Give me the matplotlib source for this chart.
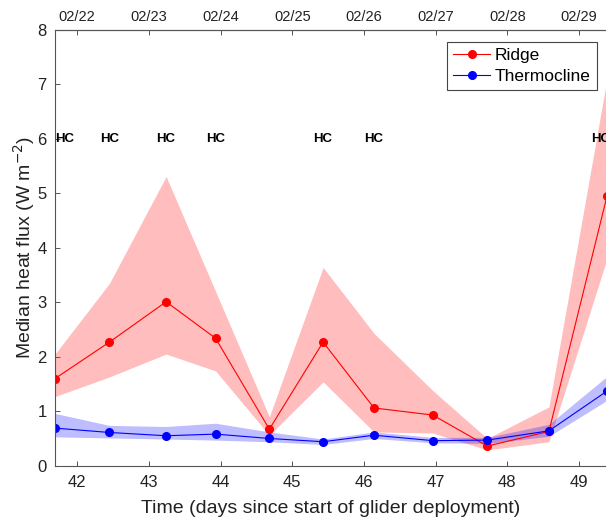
"""
Median heat flux at the ridge and in the thermocline during the glider deployment
"""

import matplotlib
matplotlib.use('Agg')
import matplotlib.pyplot as plt

# Time of each profile group (days since start of glider deployment)
days = [41.69, 42.45, 43.24, 43.93, 44.68, 45.43, 46.14, 46.96, 47.72, 48.58, 49.39]

# Ridge: median heat flux and the spread around it (W m-2)
ridge = [1.60, 2.27, 3.01, 2.34, 0.67, 2.27, 1.06, 0.93, 0.36, 0.63, 4.95]
ridge_lo = [1.27, 1.63, 2.05, 1.74, 0.56, 1.54, 0.62, 0.60, 0.29, 0.44, 3.80]
ridge_hi = [2.05, 3.35, 5.31, 3.20, 0.90, 3.64, 2.43, 1.38, 0.50, 1.08, 7.10]

# Thermocline: median heat flux and the spread around it (W m-2)
thermo = [0.69, 0.61, 0.55, 0.58, 0.50, 0.44, 0.56, 0.46, 0.47, 0.64, 1.37]
thermo_lo = [0.53, 0.51, 0.49, 0.47, 0.44, 0.39, 0.50, 0.42, 0.41, 0.54, 1.20]
thermo_hi = [0.96, 0.74, 0.72, 0.78, 0.62, 0.49, 0.62, 0.52, 0.52, 0.76, 1.64]

# Days flagged with "HC"
hc_days = [41.82, 42.45, 43.24, 43.93, 45.43, 46.14, 49.30]
hc_level = 6

# Axis ticks
day_ticks = [42, 43, 44, 45, 46, 47, 48, 49]
date_labels = ['02/22', '02/23', '02/24', '02/25', '02/26', '02/27', '02/28', '02/29']
flux_ticks = [0, 1, 2, 3, 4, 5, 6, 7, 8]

plt.rcParams['font.family'] = ['Liberation Sans', 'DejaVu Sans']
axis_grey = '#555555'

fig = plt.figure(figsize=(6.06, 5.20), dpi=100)
ax = fig.add_axes([55 / 606, 54.3 / 520, 552 / 606, 435.7 / 520])

# Shaded spread first, then the median lines on top
ax.fill_between(days, ridge_lo, ridge_hi, color='#ff0000', alpha=0.26,
                linewidth=0)
ax.plot(days, ridge, color='#ff0000', linewidth=0.8, marker='o',
        markersize=5.5, label='Ridge')
ax.fill_between(days, thermo_lo, thermo_hi, color='#0000ff', alpha=0.26,
                linewidth=0)
ax.plot(days, thermo, color='#0000ff', linewidth=0.8, marker='o',
        markersize=5.5, label='Thermocline')

for d in hc_days:
    ax.text(d, hc_level, 'HC', ha='center', va='center', fontsize=9.5,
            fontweight='bold', color='black', clip_on=False)

ax.set_xlim(days[0], days[-1])
ax.set_ylim(0, 8)
ax.set_xticks(day_ticks)
ax.set_yticks(flux_ticks)
ax.tick_params(direction='in', length=3.5, width=0.7, color=axis_grey,
               labelsize=12, labelcolor='#222222', pad=7)
ax.tick_params(axis='y', pad=6)
for side in ax.spines.values():
    side.set_color(axis_grey)
    side.set_linewidth(0.8)

ax.set_xlabel('Time (days since start of glider deployment)', fontsize=14,
              color='#222222', labelpad=7)
ax.set_ylabel('Median heat flux (W m$^{-2}$)', fontsize=14, color='#222222',
              labelpad=0)

# Calendar dates along the top
top = ax.secondary_xaxis('top')
top.set_xticks(day_ticks, labels=date_labels)
top.tick_params(direction='in', length=3.5, width=0.7, color=axis_grey,
                labelsize=10.5, labelcolor='#222222', pad=4)
top.spines['top'].set_color(axis_grey)
top.spines['top'].set_linewidth(0.8)

leg = ax.legend(loc='upper right', bbox_to_anchor=(597 / 606, 478 / 520),
                bbox_transform=fig.transFigure, borderaxespad=0,
                fontsize=12.5, fancybox=False, framealpha=1,
                edgecolor='#444444', handlelength=2.1, handletextpad=0.3,
                labelspacing=0.3, borderpad=0.35)
leg.get_frame().set_linewidth(0.8)

fig.savefig('out.png', dpi=100)
